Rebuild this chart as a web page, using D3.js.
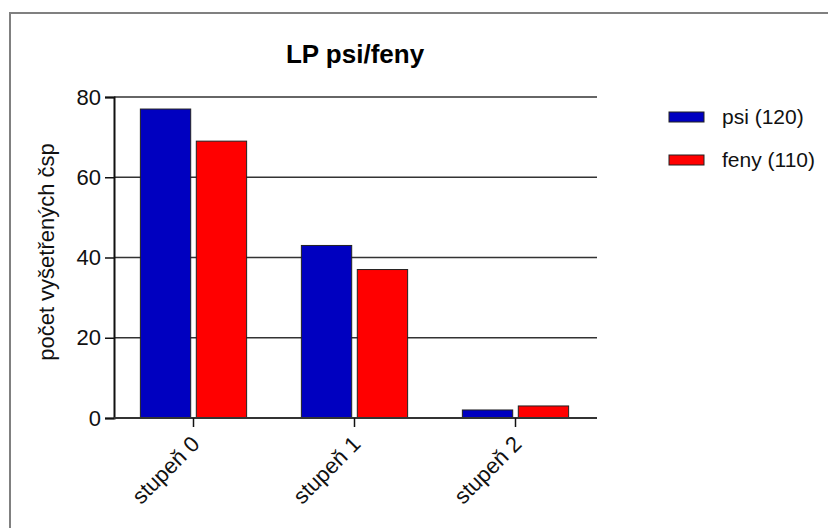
<!DOCTYPE html>
<html>
<head>
<meta charset="utf-8">
<script src="https://cdn.jsdelivr.net/npm/d3@7"></script>
<style>
  body { margin: 0; background: #fff; }
  svg { display: block; font-family: "Liberation Sans", Arial, sans-serif; }
</style>
</head>
<body>
<svg id="chart"></svg>
<script>
/*
Data
*/
const categories = ["stupeň 0", "stupeň 1", "stupeň 2"];
const seriesNames = ["psi (120)", "feny (110)"];
const seriesColors = ["#0000C0", "#FF0000"];
const psiValues = [77, 43, 2];
const fenyValues = [69, 37, 3];
const yTicks = [0, 20, 40, 60, 80];

/*
Chart
*/
const width = 828, height = 528;
const plotLeft = 114, plotRight = 597, plotTop = 97, plotBottom = 418;

const svg = d3.select("#chart")
  .attr("width", width)
  .attr("height", height)
  .attr("viewBox", "0 0 " + width + " " + height);

// frame (only top and left edges visible)
svg.append("path")
  .attr("d", "M10,528 V13 H828")
  .attr("fill", "none")
  .attr("stroke", "#808080")
  .attr("stroke-width", 2);

const y = d3.scaleLinear().domain([0, 80]).range([plotBottom, plotTop]);

const x0 = d3.scaleBand()
  .domain(categories)
  .range([plotLeft - 1, plotRight - 1])
  .paddingInner(0.34)
  .paddingOuter(0.17);

const x1 = d3.scaleBand()
  .domain(seriesNames)
  .range([0, x0.bandwidth()])
  .paddingInner(0.1);

const color = d3.scaleOrdinal().domain(seriesNames).range(seriesColors);

// gridlines
svg.append("g")
  .classed("grid", true)
  .selectAll("line")
  .data(yTicks.filter(d => d > 0))
  .enter()
  .append("line")
  .attr("x1", plotLeft)
  .attr("x2", plotRight)
  .attr("y1", d => y(d))
  .attr("y2", d => y(d))
  .attr("stroke", "#333")
  .attr("stroke-width", 1.5);

// bars
const rows = categories.map((c, i) => ({
  category: c,
  values: [
    { key: seriesNames[0], value: psiValues[i] },
    { key: seriesNames[1], value: fenyValues[i] }
  ]
}));

svg.append("g")
  .classed("bars", true)
  .selectAll("g")
  .data(rows)
  .enter()
  .append("g")
  .attr("transform", d => "translate(" + x0(d.category) + ",0)")
  .selectAll("rect")
  .data(d => d.values)
  .enter()
  .append("rect")
  .attr("x", d => x1(d.key))
  .attr("y", d => y(d.value))
  .attr("width", x1.bandwidth())
  .attr("height", d => y(0) - y(d.value))
  .attr("fill", d => color(d.key))
  .attr("stroke", "#222")
  .attr("stroke-width", 1);

// y axis
const yAxis = svg.append("g")
  .attr("transform", "translate(" + plotLeft + ",0)")
  .call(d3.axisLeft(y).tickValues(yTicks).tickSize(9).tickPadding(4));

yAxis.select(".domain").attr("stroke", "#111").attr("stroke-width", 2);
yAxis.selectAll(".tick line").attr("stroke", "#111").attr("stroke-width", 1.5);
yAxis.selectAll(".tick text")
  .attr("font-size", 22)
  .attr("fill", "#111")
  .attr("font-family", "Liberation Sans, Arial, sans-serif");

// x axis
const xAxis = svg.append("g")
  .attr("transform", "translate(0," + plotBottom + ")")
  .call(d3.axisBottom(x0).tickSize(9).tickSizeOuter(0));

xAxis.select(".domain")
  .attr("d", "M" + plotLeft + ",0H" + plotRight)
  .attr("stroke", "#333")
  .attr("stroke-width", 2);
xAxis.selectAll(".tick line").attr("stroke", "#111").attr("stroke-width", 1.5);
xAxis.selectAll(".tick text")
  .attr("font-size", 22)
  .attr("fill", "#111")
  .attr("font-family", "Liberation Sans, Arial, sans-serif")
  .attr("text-anchor", "end")
  .attr("x", 0)
  .attr("y", 0)
  .attr("dy", "0.35em")
  .attr("transform", "translate(2,22) rotate(-45)");

// y label
svg.append("text")
  .attr("transform", "translate(54,252) rotate(-90)")
  .attr("text-anchor", "middle")
  .attr("font-size", 22)
  .attr("fill", "#111")
  .text("počet vyšetřených čsp");

// title
svg.append("text")
  .attr("x", 355)
  .attr("y", 63)
  .attr("text-anchor", "middle")
  .attr("font-size", 26)
  .attr("font-weight", "bold")
  .attr("fill", "#000")
  .text("LP psi/feny");

// legend
const legend = svg.append("g")
  .classed("legend", true)
  .selectAll("g")
  .data(seriesNames)
  .enter()
  .append("g")
  .attr("transform", (d, i) => "translate(669," + (112 + i * 43) + ")");

legend.append("rect")
  .attr("width", 35)
  .attr("height", 10)
  .attr("fill", d => color(d))
  .attr("stroke", "#222")
  .attr("stroke-width", 1);

legend.append("text")
  .attr("x", 53)
  .attr("y", 5)
  .attr("dy", "0.35em")
  .attr("font-size", 21)
  .attr("fill", "#111")
  .text(d => d);
</script>
</body>
</html>
